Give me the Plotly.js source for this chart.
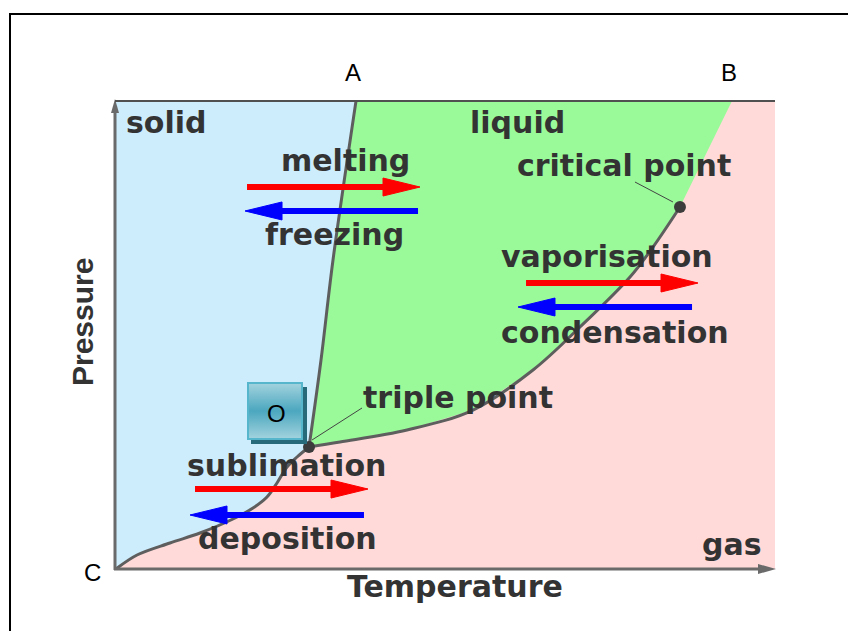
<!DOCTYPE html>
<html>
<head>
<meta charset="utf-8">
<script src="https://cdn.plot.ly/plotly-3.0.1.min.js"></script>
<style>html,body{margin:0;padding:0;background:#fff}#chart{width:848px;height:631px}</style>
</head>
<body>
<div id="chart"></div>
<script>
// ---- data (Temperature / Pressure in arbitrary units 0..100) ----
const subT = [0, 3.19, 8.19, 12.75, 17.75, 20.79, 22.91, 24.43, 25.95, 27.47, 29.29];
const subP = [0, 2.99, 5.56, 7.69, 10.68, 13.03, 15.38, 18.38, 21.79, 23.93, 26.07];
const meltT = [29.29, 31.11, 32.93, 36.42];
const meltP = [26.07, 44.66, 66.03, 100];
const vapT = [29.29, 33.99, 44.16, 54.17, 63.28, 70.41, 78.00, 81.49, 85.58];
const vapP = [26.07, 27.14, 29.70, 33.97, 42.52, 51.71, 62.39, 68.80, 77.35];
const superT = [85.58, 93.47];
const superP = [77.35, 100];
const pointNames = ['triple point', 'critical point'];
const pointT = [29.29, 85.58];
const pointP = [26.07, 77.35];
const regionNames = ['solid', 'liquid', 'gas'];
const processNames = ['melting', 'freezing', 'vaporisation', 'condensation', 'sublimation', 'deposition'];

// ---- geometry helpers (plot area in pixels) ----
const L = 116, R = 775, TOP = 101, BOT = 569;
const W = R - L, H = BOT - TOP;
const px = x => (x - L) / W;           // pixel -> paper x
const py = y => (BOT - y) / H;         // pixel -> paper y
const dT = pxl => pxl * 100 / W;       // pixel length -> data T
const dP = pxl => pxl * 100 / H;       // pixel length -> data P

// polygons built from curves
const solidT = subT.concat(meltT.slice(1), [0, 0]);
const solidP = subP.concat(meltP.slice(1), [100, 0]);
const liqT = meltT.concat(superT.slice().reverse(), vapT.slice().reverse());
const liqP = meltP.concat(superP.slice().reverse(), vapP.slice().reverse());

const curveColor = '#5e5e5e';
const traces = [
  {x: solidT, y: solidP, type: 'scatter', mode: 'lines', fill: 'toself', fillcolor: '#cdecfc', line: {width: 0}, hoverinfo: 'skip', name: regionNames[0]},
  {x: liqT, y: liqP, type: 'scatter', mode: 'lines', fill: 'toself', fillcolor: '#9afa9a', line: {width: 0}, hoverinfo: 'skip', name: regionNames[1]},
  {x: subT, y: subP, type: 'scatter', mode: 'lines', line: {color: curveColor, width: 3, shape: 'spline'}, hoverinfo: 'skip'},
  {x: meltT, y: meltP, type: 'scatter', mode: 'lines', line: {color: curveColor, width: 3, shape: 'spline'}, hoverinfo: 'skip'},
  {x: vapT, y: vapP, type: 'scatter', mode: 'lines', line: {color: curveColor, width: 3, shape: 'spline'}, hoverinfo: 'skip'},
  {x: pointT, y: pointP, text: pointNames, type: 'scatter', mode: 'markers', marker: {color: '#3c3c3c', size: 12}, hoverinfo: 'text', cliponaxis: false}
];

// process arrows: [name, P level, tail T, tip T, colour]
const arrows = [
  ['melting', 81.62, 19.88, 46.13, '#ff0000'],
  ['freezing', 76.50, 45.83, 19.58, '#0000ff'],
  ['vaporisation', 61.11, 62.22, 88.32, '#ff0000'],
  ['condensation', 55.98, 87.41, 61.00, '#0000ff'],
  ['sublimation', 17.09, 11.99, 38.24, '#ff0000'],
  ['deposition', 11.54, 37.63, 11.23, '#0000ff']
];

const shapes = [];
const headLen = dT(37), headHalf = dP(9);
arrows.forEach(a => {
  const [, p, t0, t1, col] = a;
  const dir = t1 > t0 ? 1 : -1;
  const base = t1 - dir * headLen;
  shapes.push({type: 'line', xref: 'x', yref: 'y', x0: t0, x1: base + dir * dT(2), y0: p, y1: p, line: {color: col, width: 6}});
  shapes.push({type: 'path', xref: 'x', yref: 'y',
    path: `M${base},${p - headHalf} L${t1},${p} L${base},${p + headHalf} Z`,
    fillcolor: col, line: {color: col, width: 1}});
});

// leader lines
shapes.push({type: 'line', xref: 'x', yref: 'y', x0: pointT[0] + dT(3), y0: pointP[0] + dP(7), x1: pointT[0] + dT(53), y1: pointP[0] + dP(39), line: {color: '#444', width: 1}});
shapes.push({type: 'line', xref: 'x', yref: 'y', x0: pointT[1] - dT(45), y0: pointP[1] + dP(25), x1: pointT[1] - dT(7), y1: pointP[1] + dP(5), line: {color: '#444', width: 1}});

// axes with arrows, top edge, outer frame
shapes.push({type: 'line', xref: 'paper', yref: 'paper', x0: px(115), x1: px(115), y0: py(570), y1: py(108), line: {color: '#6a6a6a', width: 3}});
shapes.push({type: 'line', xref: 'paper', yref: 'paper', x0: px(114), x1: px(762), y0: py(569), y1: py(569), line: {color: '#6a6a6a', width: 3}});
shapes.push({type: 'path', xref: 'paper', yref: 'paper', path: `M${px(111)},${py(113)} L${px(115)},${py(99)} L${px(119)},${py(113)} Z`, fillcolor: '#6a6a6a', line: {width: 0}});
shapes.push({type: 'path', xref: 'paper', yref: 'paper', path: `M${px(758)},${py(564)} L${px(776)},${py(569)} L${px(758)},${py(574)} Z`, fillcolor: '#6a6a6a', line: {width: 0}});
shapes.push({type: 'line', xref: 'paper', yref: 'paper', x0: px(115), x1: px(775), y0: py(101), y1: py(101), line: {color: '#505050', width: 2}});
shapes.push({type: 'line', xref: 'paper', yref: 'paper', x0: px(10), x1: px(10), y0: py(14), y1: py(640), line: {color: '#000', width: 2}});
shapes.push({type: 'line', xref: 'paper', yref: 'paper', x0: px(9), x1: px(860), y0: py(14), y1: py(14), line: {color: '#000', width: 2}});

const txt = '#333333';
const bold = {family: 'DejaVu Sans', size: 30, color: txt, weight: 'bold'};
function lab(text, x, y, extra) {
  return Object.assign({text: text, x: x, y: y, xref: 'x', yref: 'y', showarrow: false, font: bold, xanchor: 'center', yanchor: 'middle'}, extra || {});
}
const annotations = [
  lab(regionNames[0], 1.21, 95.5, {xanchor: 'left'}),
  lab(regionNames[1], 61.0, 95.5),
  lab(regionNames[2], 93.5, 5.13),
  lab(processNames[0], 34.75, 87.39),
  lab(processNames[1], 33.23, 71.58),
  lab(processNames[2], 74.5, 66.67),
  lab(processNames[3], 75.72, 50.43),
  lab(processNames[4], 25.8, 22.22),
  lab(processNames[5], 25.95, 6.62),
  lab(pointNames[0], 51.9, 36.75),
  lab(pointNames[1], 77.09, 86.32),
  {text: 'Temperature', xref: 'paper', yref: 'paper', x: px(455), y: py(586), showarrow: false, font: bold, xanchor: 'center', yanchor: 'middle'},
  {text: 'Pressure', xref: 'paper', yref: 'paper', x: px(82), y: py(322), textangle: -90, showarrow: false,
   font: {family: 'Liberation Sans', size: 30, color: txt, weight: 'bold'}, xanchor: 'center', yanchor: 'middle'},
  {text: 'A', xref: 'paper', yref: 'paper', x: px(353), y: py(72), showarrow: false, font: {family: 'Liberation Sans', size: 24, color: '#000'}, xanchor: 'center', yanchor: 'middle'},
  {text: 'B', xref: 'paper', yref: 'paper', x: px(729), y: py(72), showarrow: false, font: {family: 'Liberation Sans', size: 24, color: '#000'}, xanchor: 'center', yanchor: 'middle'},
  {text: 'C', xref: 'paper', yref: 'paper', x: px(92), y: py(572), showarrow: false, font: {family: 'Liberation Sans', size: 24, color: '#000'}, xanchor: 'center', yanchor: 'middle'},
  {text: 'O', xref: 'paper', yref: 'paper', x: px(276), y: py(413), showarrow: false, font: {family: 'Liberation Sans', size: 24, color: '#000'}, xanchor: 'center', yanchor: 'middle'}
];

const boxSvg = "<svg xmlns='http://www.w3.org/2000/svg' width='60' height='62' viewBox='0 0 60 62'>" +
  "<defs><linearGradient id='g' x1='0' y1='0' x2='0' y2='1'>" +
  "<stop offset='0' stop-color='#a3d3de'/><stop offset='0.5' stop-color='#4ba7bf'/><stop offset='1' stop-color='#a3d3de'/>" +
  "</linearGradient></defs>" +
  "<rect x='4' y='5' width='56' height='57' fill='#276b7b'/>" +
  "<rect x='1' y='1' width='54' height='56' fill='url(#g)' stroke='#56b6cc' stroke-width='2'/></svg>";

const layout = {
  width: 848, height: 631,
  margin: {l: L, r: 848 - R, t: TOP, b: 631 - BOT, pad: 0},
  paper_bgcolor: '#ffffff',
  plot_bgcolor: '#ffdad9',
  showlegend: false,
  xaxis: {range: [0, 100], visible: false, fixedrange: true},
  yaxis: {range: [0, 100], visible: false, fixedrange: true},
  shapes: shapes,
  annotations: annotations,
  images: [{source: 'data:image/svg+xml;charset=utf-8,' + encodeURIComponent(boxSvg), xref: 'paper', yref: 'paper',
    x: px(247), y: py(382), sizex: 60 / W, sizey: 62 / H, xanchor: 'left', yanchor: 'top', sizing: 'stretch', layer: 'above'}]
};

Plotly.newPlot('chart', traces, layout, {staticPlot: true, displayModeBar: false});
</script>
</body>
</html>
